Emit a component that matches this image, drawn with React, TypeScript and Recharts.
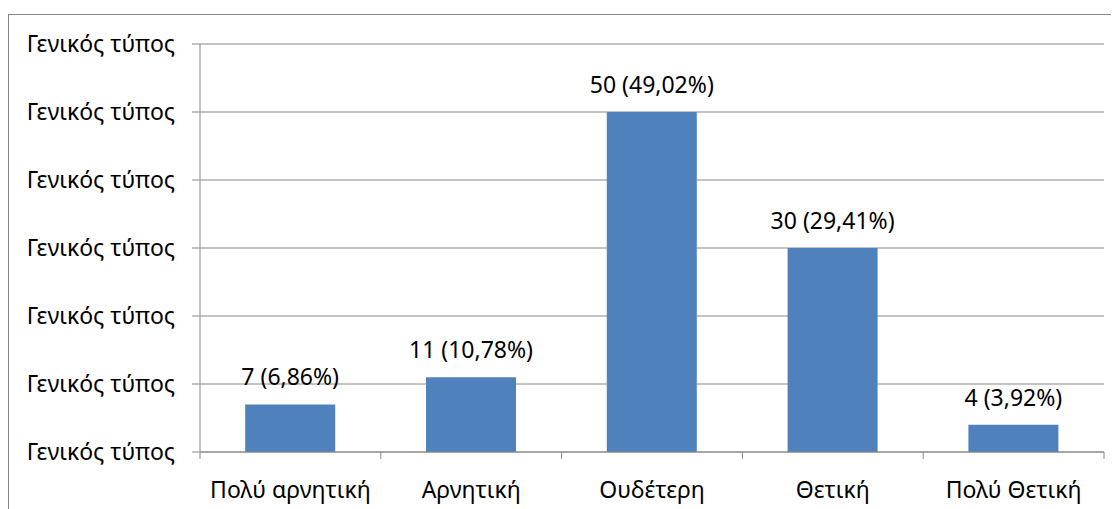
import { BarChart, Bar, XAxis, YAxis, CartesianGrid, LabelList } from 'recharts';

const categories = ['Πολύ αρνητική', 'Αρνητική', 'Ουδέτερη', 'Θετική', 'Πολύ Θετική'];
const counts = [7, 11, 50, 30, 4];
const shares = ['6,86', '10,78', '49,02', '29,41', '3,92'];
const yTicks = [0, 10, 20, 30, 40, 50, 60];
const yTickLabel = 'Γενικός τύπος';

const data = categories.map((name, i) => ({
  name,
  count: counts[i],
  label: `${counts[i]} (${shares[i]}%)`,
}));

const W = 1111;
const H = 501;
const M = { top: 36, right: 15, bottom: 0, left: 0 };
const Y_W = 192;
const band = (W - M.left - M.right - Y_W) / categories.length;
const AXIS = '#888888';
const FONT = '"Noto Sans", sans-serif';
const FS = 23;

// excel-style ticks sit between categories, so draw them from the tick centre
const CatTick = (props: any) => {
  const { x, y, payload, index } = props;
  const last = index === categories.length - 1;
  return (
    <g>
      <line x1={x - band / 2} y1={y} x2={x - band / 2} y2={y + 7} stroke={AXIS} />
      {last && <line x1={x + band / 2} y1={y} x2={x + band / 2} y2={y + 7} stroke={AXIS} />}
      <text x={x} y={y + 46} textAnchor="middle" fill="#000" fontSize={FS} fontFamily={FONT}>
        {payload.value}
      </text>
    </g>
  );
};

export default function App() {
  return (
    <div style={{ position: 'relative', width: W, height: H, overflow: 'hidden' }}>
      <div
        style={{
          position: 'absolute', left: 0, top: 6, width: W + 20, height: H + 20,
          borderLeft: `1px solid ${AXIS}`, borderTop: `1px solid ${AXIS}`,
        }}
      />
      <BarChart
        width={W}
        height={H}
        data={data}
        margin={M}
        barCategoryGap="25%"
        style={{ position: 'absolute', left: 0, top: 0 }}
      >
        <CartesianGrid horizontal vertical={false} stroke={AXIS} />
        <XAxis
          dataKey="name"
          height={57}
          axisLine={{ stroke: AXIS }}
          tickLine={false}
          tickSize={0}
          tickMargin={0}
          interval={0}
          tick={<CatTick />}
        />
        <YAxis
          domain={[0, 60]}
          ticks={yTicks}
          width={Y_W}
          axisLine={{ stroke: AXIS }}
          tickLine={{ stroke: AXIS }}
          tickSize={8}
          tickMargin={17}
          tickFormatter={() => yTickLabel}
          tick={{ fill: '#000', fontSize: FS, fontFamily: FONT }}
        />
        <Bar dataKey="count" fill="#4F81BD" isAnimationActive={false}>
          <LabelList
            dataKey="label"
            position="top"
            offset={19}
            fill="#000"
            fontSize={FS}
            fontFamily={FONT}
          />
        </Bar>
      </BarChart>
    </div>
  );
}
